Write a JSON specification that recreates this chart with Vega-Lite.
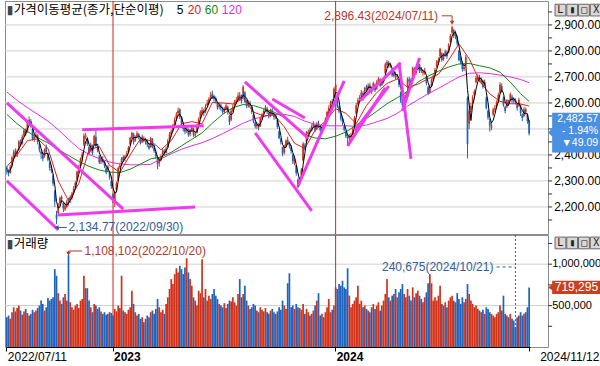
{
"$schema":"https://vega.github.io/schema/vega-lite/v6.json",
"padding":0,
"background":"white",
"spacing":1,
"bounds":"flush",
"config":{"view":{"stroke":"#8C8C8C"},"axis":{"labelFont":"Liberation Sans","labelFontSize":12,"labelColor":"#000000","tickColor":"#333333","domain":false,"grid":false,"title":null}},
"datasets":{
"yr":[{"d":"2023-01-02"},{"d":"2024-01-02"}],
"pgrid":[{"y":2200},{"y":2300},{"y":2400},{"y":2500},{"y":2600},{"y":2700},{"y":2800},{"y":2900}],
"plab":[{"y":2200},{"y":2300},{"y":2400},{"y":2600},{"y":2700},{"y":2800},{"y":2900}],
"pticks":[{"y":2150},{"y":2200},{"y":2250},{"y":2300},{"y":2350},{"y":2400},{"y":2450},{"y":2500},{"y":2550},{"y":2600},{"y":2650},{"y":2700},{"y":2750},{"y":2800},{"y":2850},{"y":2900},{"y":2950}],
"vgrid":[{"y":500000},{"y":1000000}],
"vticks":[{"y":250000},{"y":500000},{"y":750000},{"y":1000000},{"y":1250000}],
"k":[
{"d":"2022-07-11","o":2352,"h":2358,"l":2325,"c":2340,"v":360000},
{"d":"2022-07-13","o":2338,"h":2345,"l":2318,"c":2330,"v":380000},
{"d":"2022-07-15","o":2332,"h":2362,"l":2328,"c":2355,"v":340000},
{"d":"2022-07-19","o":2360,"h":2395,"l":2355,"c":2390,"v":420000},
{"d":"2022-07-21","o":2392,"h":2420,"l":2385,"c":2410,"v":480000},
{"d":"2022-07-25","o":2415,"h":2425,"l":2395,"c":2405,"v":430000},
{"d":"2022-07-27","o":2400,"h":2422,"l":2392,"c":2415,"v":470000},
{"d":"2022-07-29","o":2420,"h":2458,"l":2415,"c":2452,"v":500000},
{"d":"2022-08-02","o":2450,"h":2460,"l":2432,"c":2440,"v":440000},
{"d":"2022-08-04","o":2445,"h":2478,"l":2440,"c":2470,"v":390000},
{"d":"2022-08-08","o":2475,"h":2500,"l":2468,"c":2495,"v":430000},
{"d":"2022-08-10","o":2492,"h":2502,"l":2472,"c":2480,"v":460000},
{"d":"2022-08-12","o":2490,"h":2530,"l":2485,"c":2525,"v":410000},
{"d":"2022-08-16","o":2520,"h":2548,"l":2512,"c":2535,"v":380000},
{"d":"2022-08-18","o":2530,"h":2538,"l":2505,"c":2515,"v":400000},
{"d":"2022-08-22","o":2500,"h":2505,"l":2455,"c":2462,"v":450000},
{"d":"2022-08-24","o":2460,"h":2482,"l":2450,"c":2470,"v":420000},
{"d":"2022-08-26","o":2472,"h":2490,"l":2465,"c":2478,"v":440000},
{"d":"2022-08-30","o":2475,"h":2480,"l":2440,"c":2450,"v":470000},
{"d":"2022-09-01","o":2440,"h":2448,"l":2410,"c":2420,"v":500000},
{"d":"2022-09-05","o":2412,"h":2420,"l":2385,"c":2405,"v":560000},
{"d":"2022-09-07","o":2400,"h":2410,"l":2375,"c":2385,"v":520000},
{"d":"2022-09-09","o":2395,"h":2425,"l":2390,"c":2420,"v":440000},
{"d":"2022-09-13","o":2430,"h":2440,"l":2405,"c":2412,"v":480000},
{"d":"2022-09-15","o":2405,"h":2410,"l":2375,"c":2382,"v":590000},
{"d":"2022-09-19","o":2370,"h":2375,"l":2340,"c":2350,"v":560000},
{"d":"2022-09-21","o":2345,"h":2360,"l":2330,"c":2340,"v":580000},
{"d":"2022-09-23","o":2320,"h":2325,"l":2280,"c":2290,"v":600000},
{"d":"2022-09-27","o":2260,"h":2265,"l":2200,"c":2220,"v":940000},
{"d":"2022-09-30","o":2170,"h":2185,"l":2134.77,"c":2155,"v":860000},
{"d":"2022-10-04","o":2175,"h":2215,"l":2165,"c":2210,"v":650000},
{"d":"2022-10-06","o":2215,"h":2240,"l":2205,"c":2235,"v":560000},
{"d":"2022-10-07","o":2238,"h":2245,"l":2218,"c":2230,"v":520000},
{"d":"2022-10-11","o":2215,"h":2220,"l":2180,"c":2195,"v":600000},
{"d":"2022-10-13","o":2190,"h":2215,"l":2185,"c":2205,"v":640000},
{"d":"2022-10-17","o":2200,"h":2228,"l":2195,"c":2220,"v":560000},
{"d":"2022-10-20","o":2225,"h":2235,"l":2205,"c":2218,"v":1108102},
{"d":"2022-10-24","o":2225,"h":2245,"l":2215,"c":2238,"v":540000},
{"d":"2022-10-26","o":2235,"h":2258,"l":2228,"c":2250,"v":480000},
{"d":"2022-10-28","o":2255,"h":2280,"l":2248,"c":2270,"v":450000},
{"d":"2022-10-31","o":2275,"h":2300,"l":2270,"c":2293,"v":500000},
{"d":"2022-11-02","o":2305,"h":2340,"l":2300,"c":2336,"v":520000},
{"d":"2022-11-04","o":2340,"h":2362,"l":2330,"c":2348,"v":470000},
{"d":"2022-11-08","o":2355,"h":2390,"l":2350,"c":2385,"v":560000},
{"d":"2022-11-10","o":2385,"h":2412,"l":2375,"c":2403,"v":580000},
{"d":"2022-11-14","o":2440,"h":2483,"l":2435,"c":2474,"v":860000},
{"d":"2022-11-16","o":2470,"h":2485,"l":2460,"c":2475,"v":710000},
{"d":"2022-11-18","o":2465,"h":2470,"l":2435,"c":2442,"v":710000},
{"d":"2022-11-22","o":2430,"h":2438,"l":2398,"c":2405,"v":560000},
{"d":"2022-11-24","o":2415,"h":2448,"l":2410,"c":2440,"v":480000},
{"d":"2022-11-28","o":2435,"h":2440,"l":2400,"c":2408,"v":420000},
{"d":"2022-11-30","o":2440,"h":2478,"l":2436,"c":2472,"v":520000},
{"d":"2022-12-02","o":2470,"h":2495,"l":2430,"c":2434,"v":500000},
{"d":"2022-12-06","o":2428,"h":2435,"l":2410,"c":2419,"v":460000},
{"d":"2022-12-08","o":2395,"h":2400,"l":2365,"c":2371,"v":480000},
{"d":"2022-12-12","o":2375,"h":2395,"l":2365,"c":2389,"v":430000},
{"d":"2022-12-14","o":2385,"h":2395,"l":2368,"c":2373,"v":400000},
{"d":"2022-12-16","o":2375,"h":2378,"l":2350,"c":2360,"v":420000},
{"d":"2022-12-20","o":2350,"h":2360,"l":2325,"c":2333,"v":390000},
{"d":"2022-12-22","o":2340,"h":2362,"l":2335,"c":2356,"v":400000},
{"d":"2022-12-26","o":2330,"h":2335,"l":2305,"c":2313,"v":420000},
{"d":"2022-12-28","o":2298,"h":2302,"l":2270,"c":2280,"v":410000},
{"d":"2023-01-02","o":2249,"h":2253,"l":2215,"c":2225,"v":380000},
{"d":"2023-01-04","o":2220,"h":2262,"l":2200,"c":2255,"v":460000},
{"d":"2023-01-06","o":2265,"h":2298,"l":2260,"c":2290,"v":430000},
{"d":"2023-01-09","o":2300,"h":2356,"l":2298,"c":2350,"v":500000},
{"d":"2023-01-11","o":2352,"h":2370,"l":2345,"c":2360,"v":470000},
{"d":"2023-01-13","o":2365,"h":2392,"l":2358,"c":2386,"v":860000},
{"d":"2023-01-17","o":2392,"h":2398,"l":2372,"c":2380,"v":440000},
{"d":"2023-01-19","o":2385,"h":2400,"l":2375,"c":2395,"v":420000},
{"d":"2023-01-23","o":2398,"h":2415,"l":2390,"c":2405,"v":400000},
{"d":"2023-01-25","o":2410,"h":2435,"l":2405,"c":2428,"v":450000},
{"d":"2023-01-27","o":2440,"h":2470,"l":2438,"c":2466,"v":480000},
{"d":"2023-01-31","o":2465,"h":2490,"l":2460,"c":2484,"v":680000},
{"d":"2023-02-02","o":2480,"h":2485,"l":2440,"c":2450,"v":520000},
{"d":"2023-02-06","o":2455,"h":2475,"l":2450,"c":2468,"v":420000},
{"d":"2023-02-08","o":2470,"h":2492,"l":2465,"c":2482,"v":380000},
{"d":"2023-02-10","o":2480,"h":2485,"l":2460,"c":2470,"v":400000},
{"d":"2023-02-14","o":2465,"h":2470,"l":2440,"c":2445,"v":340000},
{"d":"2023-02-16","o":2450,"h":2478,"l":2445,"c":2470,"v":360000},
{"d":"2023-02-20","o":2465,"h":2472,"l":2448,"c":2455,"v":300000},
{"d":"2023-02-22","o":2452,"h":2466,"l":2440,"c":2458,"v":340000},
{"d":"2023-02-24","o":2455,"h":2460,"l":2430,"c":2440,"v":380000},
{"d":"2023-02-28","o":2435,"h":2445,"l":2420,"c":2425,"v":360000},
{"d":"2023-03-02","o":2430,"h":2470,"l":2428,"c":2465,"v":420000},
{"d":"2023-03-06","o":2460,"h":2465,"l":2425,"c":2430,"v":440000},
{"d":"2023-03-08","o":2428,"h":2440,"l":2408,"c":2415,"v":400000},
{"d":"2023-03-10","o":2410,"h":2418,"l":2385,"c":2395,"v":460000},
{"d":"2023-03-14","o":2385,"h":2390,"l":2345,"c":2365,"v":580000},
{"d":"2023-03-16","o":2368,"h":2390,"l":2355,"c":2380,"v":480000},
{"d":"2023-03-20","o":2382,"h":2402,"l":2375,"c":2395,"v":420000},
{"d":"2023-03-22","o":2400,"h":2425,"l":2395,"c":2418,"v":450000},
{"d":"2023-03-24","o":2415,"h":2422,"l":2398,"c":2405,"v":400000},
{"d":"2023-03-28","o":2408,"h":2432,"l":2405,"c":2425,"v":520000},
{"d":"2023-03-30","o":2430,"h":2462,"l":2428,"c":2455,"v":600000},
{"d":"2023-04-03","o":2460,"h":2488,"l":2455,"c":2480,"v":700000},
{"d":"2023-04-05","o":2478,"h":2498,"l":2470,"c":2490,"v":820000},
{"d":"2023-04-07","o":2495,"h":2520,"l":2490,"c":2512,"v":760000},
{"d":"2023-04-11","o":2515,"h":2545,"l":2510,"c":2535,"v":880000},
{"d":"2023-04-13","o":2540,"h":2565,"l":2532,"c":2555,"v":950000},
{"d":"2023-04-17","o":2560,"h":2582,"l":2550,"c":2570,"v":900000},
{"d":"2023-04-19","o":2575,"h":2580,"l":2538,"c":2545,"v":980000},
{"d":"2023-04-21","o":2545,"h":2550,"l":2510,"c":2520,"v":940000},
{"d":"2023-04-25","o":2515,"h":2525,"l":2490,"c":2500,"v":880000},
{"d":"2023-04-27","o":2505,"h":2510,"l":2480,"c":2490,"v":960000},
{"d":"2023-05-01","o":2492,"h":2510,"l":2485,"c":2502,"v":1070000},
{"d":"2023-05-03","o":2498,"h":2502,"l":2470,"c":2478,"v":900000},
{"d":"2023-05-05","o":2480,"h":2500,"l":2472,"c":2495,"v":820000},
{"d":"2023-05-09","o":2495,"h":2512,"l":2488,"c":2505,"v":740000},
{"d":"2023-05-11","o":2500,"h":2505,"l":2470,"c":2478,"v":600000},
{"d":"2023-05-15","o":2475,"h":2490,"l":2468,"c":2480,"v":560000},
{"d":"2023-05-17","o":2485,"h":2518,"l":2482,"c":2510,"v":500000},
{"d":"2023-05-19","o":2515,"h":2545,"l":2510,"c":2537,"v":680000},
{"d":"2023-05-23","o":2540,"h":2572,"l":2538,"c":2565,"v":650000},
{"d":"2023-05-25","o":2560,"h":2585,"l":2552,"c":2572,"v":1060000},
{"d":"2023-05-29","o":2570,"h":2578,"l":2550,"c":2560,"v":600000},
{"d":"2023-05-31","o":2565,"h":2595,"l":2560,"c":2585,"v":700000},
{"d":"2023-06-02","o":2590,"h":2612,"l":2585,"c":2600,"v":560000},
{"d":"2023-06-06","o":2600,"h":2622,"l":2595,"c":2615,"v":620000},
{"d":"2023-06-08","o":2615,"h":2642,"l":2610,"c":2630,"v":580000},
{"d":"2023-06-12","o":2635,"h":2648,"l":2615,"c":2625,"v":640000},
{"d":"2023-06-14","o":2625,"h":2632,"l":2605,"c":2615,"v":700000},
{"d":"2023-06-16","o":2618,"h":2625,"l":2598,"c":2608,"v":620000},
{"d":"2023-06-20","o":2600,"h":2605,"l":2575,"c":2582,"v":580000},
{"d":"2023-06-22","o":2585,"h":2600,"l":2575,"c":2592,"v":520000},
{"d":"2023-06-26","o":2590,"h":2598,"l":2570,"c":2580,"v":500000},
{"d":"2023-06-28","o":2578,"h":2585,"l":2558,"c":2565,"v":480000},
{"d":"2023-06-30","o":2565,"h":2585,"l":2560,"c":2575,"v":530000},
{"d":"2023-07-04","o":2578,"h":2598,"l":2572,"c":2590,"v":470000},
{"d":"2023-07-06","o":2585,"h":2590,"l":2555,"c":2565,"v":520000},
{"d":"2023-07-10","o":2550,"h":2555,"l":2515,"c":2526,"v":560000},
{"d":"2023-07-12","o":2535,"h":2578,"l":2530,"c":2570,"v":550000},
{"d":"2023-07-14","o":2570,"h":2595,"l":2565,"c":2585,"v":600000},
{"d":"2023-07-18","o":2590,"h":2612,"l":2585,"c":2602,"v":540000},
{"d":"2023-07-20","o":2600,"h":2622,"l":2595,"c":2610,"v":500000},
{"d":"2023-07-24","o":2612,"h":2640,"l":2608,"c":2628,"v":640000},
{"d":"2023-07-26","o":2630,"h":2642,"l":2610,"c":2620,"v":820000},
{"d":"2023-07-28","o":2625,"h":2632,"l":2598,"c":2608,"v":600000},
{"d":"2023-08-01","o":2620,"h":2668,"l":2618,"c":2662,"v":640000},
{"d":"2023-08-03","o":2640,"h":2645,"l":2600,"c":2605,"v":740000},
{"d":"2023-08-07","o":2605,"h":2612,"l":2580,"c":2590,"v":560000},
{"d":"2023-08-09","o":2590,"h":2610,"l":2582,"c":2602,"v":500000},
{"d":"2023-08-11","o":2600,"h":2608,"l":2585,"c":2595,"v":460000},
{"d":"2023-08-15","o":2585,"h":2590,"l":2558,"c":2565,"v":480000},
{"d":"2023-08-17","o":2555,"h":2560,"l":2522,"c":2530,"v":520000},
{"d":"2023-08-21","o":2525,"h":2530,"l":2502,"c":2510,"v":500000},
{"d":"2023-08-23","o":2510,"h":2525,"l":2500,"c":2518,"v":440000},
{"d":"2023-08-25","o":2515,"h":2522,"l":2495,"c":2505,"v":420000},
{"d":"2023-08-29","o":2510,"h":2548,"l":2508,"c":2540,"v":480000},
{"d":"2023-08-31","o":2540,"h":2562,"l":2535,"c":2556,"v":450000},
{"d":"2023-09-04","o":2560,"h":2578,"l":2555,"c":2570,"v":430000},
{"d":"2023-09-06","o":2570,"h":2592,"l":2568,"c":2582,"v":470000},
{"d":"2023-09-08","o":2578,"h":2585,"l":2558,"c":2565,"v":420000},
{"d":"2023-09-12","o":2562,"h":2568,"l":2540,"c":2548,"v":400000},
{"d":"2023-09-14","o":2550,"h":2578,"l":2545,"c":2572,"v":440000},
{"d":"2023-09-18","o":2570,"h":2580,"l":2550,"c":2560,"v":460000},
{"d":"2023-09-20","o":2555,"h":2562,"l":2535,"c":2545,"v":420000},
{"d":"2023-09-22","o":2545,"h":2558,"l":2538,"c":2550,"v":400000},
{"d":"2023-09-26","o":2535,"h":2540,"l":2500,"c":2508,"v":430000},
{"d":"2023-09-28","o":2490,"h":2495,"l":2460,"c":2465,"v":480000},
{"d":"2023-10-02","o":2460,"h":2465,"l":2440,"c":2450,"v":450000},
{"d":"2023-10-04","o":2430,"h":2432,"l":2395,"c":2405,"v":560000},
{"d":"2023-10-06","o":2410,"h":2440,"l":2402,"c":2430,"v":500000},
{"d":"2023-10-10","o":2435,"h":2460,"l":2428,"c":2455,"v":460000},
{"d":"2023-10-12","o":2458,"h":2470,"l":2440,"c":2450,"v":770000},
{"d":"2023-10-16","o":2445,"h":2452,"l":2425,"c":2436,"v":890000},
{"d":"2023-10-18","o":2430,"h":2438,"l":2405,"c":2415,"v":480000},
{"d":"2023-10-20","o":2400,"h":2405,"l":2365,"c":2375,"v":500000},
{"d":"2023-10-24","o":2370,"h":2395,"l":2360,"c":2385,"v":460000},
{"d":"2023-10-26","o":2360,"h":2362,"l":2320,"c":2330,"v":520000},
{"d":"2023-10-30","o":2305,"h":2310,"l":2272,"c":2277,"v":480000},
{"d":"2023-11-01","o":2290,"h":2315,"l":2280,"c":2301,"v":470000},
{"d":"2023-11-03","o":2310,"h":2350,"l":2305,"c":2343,"v":450000},
{"d":"2023-11-07","o":2380,"h":2450,"l":2375,"c":2443,"v":520000},
{"d":"2023-11-09","o":2435,"h":2445,"l":2418,"c":2427,"v":400000},
{"d":"2023-11-13","o":2450,"h":2492,"l":2445,"c":2486,"v":460000},
{"d":"2023-11-15","o":2480,"h":2498,"l":2472,"c":2488,"v":420000},
{"d":"2023-11-17","o":2495,"h":2505,"l":2482,"c":2491,"v":380000},
{"d":"2023-11-21","o":2495,"h":2518,"l":2490,"c":2510,"v":400000},
{"d":"2023-11-23","o":2512,"h":2530,"l":2505,"c":2521,"v":440000},
{"d":"2023-11-27","o":2515,"h":2520,"l":2488,"c":2495,"v":500000},
{"d":"2023-11-29","o":2500,"h":2528,"l":2495,"c":2520,"v":560000},
{"d":"2023-12-01","o":2522,"h":2532,"l":2505,"c":2514,"v":650000},
{"d":"2023-12-05","o":2510,"h":2515,"l":2488,"c":2495,"v":380000},
{"d":"2023-12-07","o":2495,"h":2512,"l":2490,"c":2505,"v":400000},
{"d":"2023-12-11","o":2505,"h":2522,"l":2500,"c":2515,"v":360000},
{"d":"2023-12-13","o":2520,"h":2545,"l":2515,"c":2537,"v":420000},
{"d":"2023-12-15","o":2540,"h":2570,"l":2535,"c":2565,"v":480000},
{"d":"2023-12-19","o":2568,"h":2590,"l":2560,"c":2580,"v":580000},
{"d":"2023-12-21","o":2585,"h":2608,"l":2578,"c":2600,"v":420000},
{"d":"2023-12-26","o":2605,"h":2615,"l":2590,"c":2599,"v":450000},
{"d":"2023-12-28","o":2620,"h":2660,"l":2615,"c":2655,"v":500000},
{"d":"2024-01-02","o":2645,"h":2675,"l":2640,"c":2669,"v":720000},
{"d":"2024-01-04","o":2610,"h":2615,"l":2580,"c":2587,"v":700000},
{"d":"2024-01-08","o":2585,"h":2590,"l":2560,"c":2567,"v":760000},
{"d":"2024-01-10","o":2560,"h":2565,"l":2532,"c":2540,"v":740000},
{"d":"2024-01-12","o":2540,"h":2545,"l":2515,"c":2525,"v":800000},
{"d":"2024-01-16","o":2510,"h":2515,"l":2490,"c":2497,"v":720000},
{"d":"2024-01-18","o":2490,"h":2495,"l":2465,"c":2472,"v":700000},
{"d":"2024-01-22","o":2470,"h":2478,"l":2435,"c":2464,"v":950000},
{"d":"2024-01-24","o":2465,"h":2480,"l":2450,"c":2470,"v":620000},
{"d":"2024-01-26","o":2470,"h":2485,"l":2460,"c":2478,"v":480000},
{"d":"2024-01-30","o":2480,"h":2505,"l":2475,"c":2498,"v":520000},
{"d":"2024-02-01","o":2505,"h":2550,"l":2500,"c":2543,"v":560000},
{"d":"2024-02-05","o":2560,"h":2600,"l":2555,"c":2591,"v":600000},
{"d":"2024-02-07","o":2595,"h":2620,"l":2590,"c":2610,"v":740000},
{"d":"2024-02-09","o":2615,"h":2630,"l":2605,"c":2620,"v":520000},
{"d":"2024-02-13","o":2625,"h":2650,"l":2618,"c":2640,"v":560000},
{"d":"2024-02-15","o":2638,"h":2645,"l":2608,"c":2615,"v":480000},
{"d":"2024-02-19","o":2625,"h":2662,"l":2620,"c":2657,"v":500000},
{"d":"2024-02-21","o":2660,"h":2670,"l":2645,"c":2654,"v":460000},
{"d":"2024-02-23","o":2655,"h":2675,"l":2648,"c":2667,"v":440000},
{"d":"2024-02-27","o":2668,"h":2678,"l":2650,"c":2660,"v":420000},
{"d":"2024-02-29","o":2658,"h":2664,"l":2635,"c":2642,"v":480000},
{"d":"2024-03-04","o":2650,"h":2682,"l":2648,"c":2675,"v":520000},
{"d":"2024-03-06","o":2670,"h":2675,"l":2642,"c":2649,"v":460000},
{"d":"2024-03-08","o":2655,"h":2688,"l":2650,"c":2680,"v":500000},
{"d":"2024-03-12","o":2680,"h":2700,"l":2672,"c":2693,"v":540000},
{"d":"2024-03-14","o":2690,"h":2695,"l":2660,"c":2666,"v":440000},
{"d":"2024-03-18","o":2670,"h":2692,"l":2665,"c":2685,"v":500000},
{"d":"2024-03-20","o":2685,"h":2700,"l":2675,"c":2690,"v":560000},
{"d":"2024-03-22","o":2715,"h":2755,"l":2710,"c":2748,"v":640000},
{"d":"2024-03-26","o":2745,"h":2765,"l":2735,"c":2757,"v":820000},
{"d":"2024-03-28","o":2755,"h":2762,"l":2735,"c":2745,"v":600000},
{"d":"2024-04-01","o":2740,"h":2755,"l":2735,"c":2747,"v":560000},
{"d":"2024-04-03","o":2730,"h":2735,"l":2700,"c":2706,"v":620000},
{"d":"2024-04-05","o":2705,"h":2722,"l":2698,"c":2714,"v":640000},
{"d":"2024-04-09","o":2712,"h":2720,"l":2692,"c":2705,"v":700000},
{"d":"2024-04-11","o":2700,"h":2712,"l":2690,"c":2706,"v":600000},
{"d":"2024-04-15","o":2690,"h":2695,"l":2660,"c":2670,"v":660000},
{"d":"2024-04-17","o":2640,"h":2645,"l":2600,"c":2609,"v":700000},
{"d":"2024-04-19","o":2610,"h":2615,"l":2575,"c":2591,"v":760000},
{"d":"2024-04-23","o":2600,"h":2630,"l":2595,"c":2623,"v":640000},
{"d":"2024-04-25","o":2620,"h":2640,"l":2615,"c":2628,"v":600000},
{"d":"2024-04-29","o":2660,"h":2698,"l":2655,"c":2692,"v":700000},
{"d":"2024-05-01","o":2690,"h":2700,"l":2675,"c":2683,"v":620000},
{"d":"2024-05-03","o":2685,"h":2695,"l":2668,"c":2676,"v":560000},
{"d":"2024-05-07","o":2700,"h":2740,"l":2695,"c":2734,"v":720000},
{"d":"2024-05-09","o":2730,"h":2738,"l":2705,"c":2712,"v":600000},
{"d":"2024-05-13","o":2715,"h":2735,"l":2708,"c":2727,"v":650000},
{"d":"2024-05-15","o":2730,"h":2760,"l":2725,"c":2753,"v":680000},
{"d":"2024-05-17","o":2745,"h":2750,"l":2715,"c":2724,"v":620000},
{"d":"2024-05-21","o":2730,"h":2738,"l":2715,"c":2723,"v":580000},
{"d":"2024-05-23","o":2715,"h":2728,"l":2705,"c":2721,"v":540000},
{"d":"2024-05-27","o":2715,"h":2735,"l":2708,"c":2722,"v":600000},
{"d":"2024-05-29","o":2700,"h":2705,"l":2668,"c":2677,"v":660000},
{"d":"2024-05-31","o":2660,"h":2665,"l":2630,"c":2636,"v":770000},
{"d":"2024-06-04","o":2640,"h":2670,"l":2635,"c":2662,"v":880000},
{"d":"2024-06-06","o":2665,"h":2695,"l":2660,"c":2689,"v":770000},
{"d":"2024-06-10","o":2690,"h":2710,"l":2685,"c":2701,"v":560000},
{"d":"2024-06-12","o":2710,"h":2735,"l":2705,"c":2728,"v":600000},
{"d":"2024-06-14","o":2740,"h":2765,"l":2735,"c":2758,"v":560000},
{"d":"2024-06-18","o":2755,"h":2775,"l":2748,"c":2763,"v":620000},
{"d":"2024-06-20","o":2780,"h":2812,"l":2775,"c":2807,"v":740000},
{"d":"2024-06-24","o":2790,"h":2795,"l":2758,"c":2765,"v":520000},
{"d":"2024-06-26","o":2770,"h":2792,"l":2762,"c":2784,"v":500000},
{"d":"2024-06-28","o":2785,"h":2805,"l":2778,"c":2797,"v":540000},
{"d":"2024-07-02","o":2795,"h":2802,"l":2770,"c":2780,"v":480000},
{"d":"2024-07-04","o":2795,"h":2830,"l":2790,"c":2824,"v":560000},
{"d":"2024-07-08","o":2835,"h":2865,"l":2830,"c":2857,"v":600000},
{"d":"2024-07-11","o":2870,"h":2896.43,"l":2862,"c":2891,"v":620000},
{"d":"2024-07-12","o":2880,"h":2885,"l":2850,"c":2858,"v":560000},
{"d":"2024-07-16","o":2860,"h":2878,"l":2845,"c":2867,"v":540000},
{"d":"2024-07-18","o":2855,"h":2860,"l":2820,"c":2829,"v":650000},
{"d":"2024-07-22","o":2800,"h":2805,"l":2760,"c":2765,"v":580000},
{"d":"2024-07-24","o":2770,"h":2778,"l":2748,"c":2758,"v":520000},
{"d":"2024-07-26","o":2755,"h":2760,"l":2720,"c":2731,"v":600000},
{"d":"2024-07-30","o":2730,"h":2750,"l":2722,"c":2738,"v":540000},
{"d":"2024-08-01","o":2750,"h":2785,"l":2745,"c":2777,"v":580000},
{"d":"2024-08-05","o":2620,"h":2625,"l":2386,"c":2441,"v":760000},
{"d":"2024-08-07","o":2520,"h":2575,"l":2500,"c":2568,"v":640000},
{"d":"2024-08-09","o":2575,"h":2600,"l":2565,"c":2588,"v":560000},
{"d":"2024-08-13","o":2600,"h":2630,"l":2595,"c":2621,"v":520000},
{"d":"2024-08-15","o":2630,"h":2652,"l":2625,"c":2644,"v":480000},
{"d":"2024-08-19","o":2680,"h":2705,"l":2675,"c":2697,"v":500000},
{"d":"2024-08-21","o":2690,"h":2710,"l":2685,"c":2701,"v":460000},
{"d":"2024-08-23","o":2700,"h":2708,"l":2680,"c":2689,"v":440000},
{"d":"2024-08-27","o":2680,"h":2698,"l":2672,"c":2689,"v":420000},
{"d":"2024-08-29","o":2685,"h":2690,"l":2655,"c":2662,"v":450000},
{"d":"2024-09-02","o":2670,"h":2690,"l":2665,"c":2681,"v":400000},
{"d":"2024-09-04","o":2620,"h":2625,"l":2575,"c":2580,"v":480000},
{"d":"2024-09-06","o":2570,"h":2575,"l":2535,"c":2544,"v":460000},
{"d":"2024-09-10","o":2530,"h":2540,"l":2490,"c":2513,"v":420000},
{"d":"2024-09-12","o":2505,"h":2525,"l":2495,"c":2513,"v":400000},
{"d":"2024-09-16","o":2555,"h":2582,"l":2550,"c":2575,"v":380000},
{"d":"2024-09-18","o":2575,"h":2592,"l":2565,"c":2580,"v":360000},
{"d":"2024-09-20","o":2585,"h":2610,"l":2578,"c":2602,"v":400000},
{"d":"2024-09-24","o":2605,"h":2640,"l":2600,"c":2631,"v":420000},
{"d":"2024-09-26","o":2640,"h":2680,"l":2635,"c":2671,"v":500000},
{"d":"2024-09-30","o":2665,"h":2675,"l":2640,"c":2649,"v":440000},
{"d":"2024-10-02","o":2620,"h":2625,"l":2585,"c":2593,"v":620000},
{"d":"2024-10-04","o":2585,"h":2590,"l":2560,"c":2569,"v":400000},
{"d":"2024-10-08","o":2585,"h":2615,"l":2580,"c":2610,"v":380000},
{"d":"2024-10-10","o":2605,"h":2612,"l":2590,"c":2596,"v":360000},
{"d":"2024-10-14","o":2610,"h":2640,"l":2605,"c":2633,"v":400000},
{"d":"2024-10-16","o":2625,"h":2632,"l":2600,"c":2610,"v":340000},
{"d":"2024-10-18","o":2615,"h":2622,"l":2598,"c":2609,"v":320000},
{"d":"2024-10-21","o":2612,"h":2618,"l":2595,"c":2604,"v":240675},
{"d":"2024-10-24","o":2595,"h":2600,"l":2570,"c":2581,"v":360000},
{"d":"2024-10-28","o":2590,"h":2620,"l":2585,"c":2612,"v":380000},
{"d":"2024-10-30","o":2590,"h":2595,"l":2550,"c":2561,"v":420000},
{"d":"2024-11-01","o":2555,"h":2560,"l":2530,"c":2542,"v":380000},
{"d":"2024-11-05","o":2550,"h":2585,"l":2545,"c":2576,"v":400000},
{"d":"2024-11-07","o":2575,"h":2582,"l":2555,"c":2564,"v":420000},
{"d":"2024-11-11","o":2555,"h":2560,"l":2520,"c":2531,"v":480000},
{"d":"2024-11-12","o":2530,"h":2535,"l":2475,"c":2482.57,"v":719295}
],
"ma":[
{"d":"2022-07-11","a":2355,"b":2556,"e":2642},
{"d":"2022-07-27","a":2400,"b":2520,"e":2610},
{"d":"2022-08-12","a":2455,"b":2490,"e":2582},
{"d":"2022-08-30","a":2462,"b":2466,"e":2556},
{"d":"2022-09-15","a":2425,"b":2446,"e":2530},
{"d":"2022-10-04","a":2300,"b":2420,"e":2497},
{"d":"2022-10-20","a":2224,"b":2398,"e":2460},
{"d":"2022-11-04","a":2290,"b":2375,"e":2425},
{"d":"2022-11-22","a":2420,"b":2356,"e":2402},
{"d":"2022-12-08","a":2432,"b":2342,"e":2386},
{"d":"2022-12-26","a":2360,"b":2334,"e":2373},
{"d":"2023-01-11","a":2333,"b":2332,"e":2365},
{"d":"2023-01-27","a":2400,"b":2345,"e":2362},
{"d":"2023-02-14","a":2462,"b":2365,"e":2362},
{"d":"2023-03-02","a":2455,"b":2385,"e":2364},
{"d":"2023-03-20","a":2420,"b":2392,"e":2385},
{"d":"2023-04-05","a":2455,"b":2410,"e":2405},
{"d":"2023-04-21","a":2520,"b":2435,"e":2422},
{"d":"2023-05-09","a":2528,"b":2460,"e":2435},
{"d":"2023-05-25","a":2520,"b":2485,"e":2447},
{"d":"2023-06-12","a":2602,"b":2522,"e":2463},
{"d":"2023-06-28","a":2600,"b":2556,"e":2482},
{"d":"2023-07-14","a":2596,"b":2582,"e":2502},
{"d":"2023-08-01","a":2618,"b":2594,"e":2522},
{"d":"2023-08-17","a":2565,"b":2590,"e":2538},
{"d":"2023-09-04","a":2550,"b":2578,"e":2548},
{"d":"2023-09-20","a":2555,"b":2565,"e":2556},
{"d":"2023-10-06","a":2508,"b":2545,"e":2556},
{"d":"2023-10-24","a":2445,"b":2510,"e":2548},
{"d":"2023-11-09","a":2425,"b":2478,"e":2530},
{"d":"2023-11-27","a":2495,"b":2465,"e":2518},
{"d":"2023-12-13","a":2530,"b":2462,"e":2512},
{"d":"2024-01-02","a":2578,"b":2472,"e":2512},
{"d":"2024-01-18","a":2560,"b":2488,"e":2512},
{"d":"2024-02-05","a":2520,"b":2515,"e":2510},
{"d":"2024-02-21","a":2590,"b":2540,"e":2515},
{"d":"2024-03-08","a":2640,"b":2568,"e":2527},
{"d":"2024-03-26","a":2675,"b":2597,"e":2540},
{"d":"2024-04-11","a":2692,"b":2620,"e":2560},
{"d":"2024-04-29","a":2660,"b":2645,"e":2588},
{"d":"2024-05-15","a":2672,"b":2680,"e":2612},
{"d":"2024-05-31","a":2693,"b":2703,"e":2635},
{"d":"2024-06-18","a":2710,"b":2722,"e":2656},
{"d":"2024-07-04","a":2765,"b":2738,"e":2678},
{"d":"2024-07-22","a":2827,"b":2750,"e":2700},
{"d":"2024-08-07","a":2770,"b":2752,"e":2714},
{"d":"2024-08-23","a":2685,"b":2743,"e":2716},
{"d":"2024-09-10","a":2635,"b":2735,"e":2713},
{"d":"2024-09-26","a":2606,"b":2718,"e":2707},
{"d":"2024-10-14","a":2597,"b":2680,"e":2700},
{"d":"2024-10-30","a":2596,"b":2636,"e":2690},
{"d":"2024-11-12","a":2588,"b":2606,"e":2678}
],
"draw":[
{"g":1,"d":"2022-07-11","p":2600},{"g":1,"d":"2023-01-17","p":2192},
{"g":2,"d":"2022-07-11","p":2300},{"g":2,"d":"2022-10-04","p":2112},
{"g":3,"d":"2022-11-10","p":2497},{"g":3,"d":"2023-05-29","p":2512},
{"g":4,"d":"2022-10-04","p":2169},{"g":4,"d":"2023-05-15","p":2200},
{"g":5,"d":"2023-08-03","p":2681},{"g":5,"d":"2023-11-15","p":2465},
{"g":6,"d":"2023-09-18","p":2615},{"g":6,"d":"2023-11-09","p":2542},
{"g":8,"d":"2023-08-21","p":2485},{"g":8,"d":"2023-11-21","p":2185},
{"g":7,"d":"2023-10-30","p":2281},{"g":7,"d":"2024-01-16","p":2685},
{"g":9,"d":"2024-01-22","p":2435},{"g":9,"d":"2024-03-22","p":2658},
{"g":10,"d":"2024-02-01","p":2492},{"g":10,"d":"2024-03-28","p":2665},
{"g":13,"d":"2024-02-09","p":2608},{"g":13,"d":"2024-04-17","p":2754},
{"g":11,"d":"2024-04-15","p":2754},{"g":11,"d":"2024-05-03","p":2385},
{"g":12,"d":"2024-04-19","p":2569},{"g":12,"d":"2024-05-17","p":2773}
]
},
"vconcat":[
{"width":543,"height":233,"layer":[
{"data":{"name":"pgrid"},"mark":{"type":"rule","color":"#CFCFCF","strokeWidth":1},"encoding":{"y":{"field":"y","type":"quantitative","scale":{"domain":[2096,2992],"nice":false,"zero":false},"axis":null}}},
{"data":{"name":"yr"},"mark":{"type":"rule","color":"#D42020","strokeWidth":1},"encoding":{"x":{"field":"d","type":"ordinal","scale":{"range":[1,525],"paddingInner":0,"paddingOuter":0},"axis":null}}},
{"data":{"name":"k"},"mark":{"type":"rule","strokeWidth":1},"encoding":{"x":{"field":"d","type":"ordinal","axis":null},"y":{"field":"l","type":"quantitative","axis":null},"y2":{"field":"h"},"color":{"condition":{"test":"datum.c >= datum.o","value":"#D23219"},"value":"#1E64BE"}}},
{"data":{"name":"pticks"},"mark":{"type":"rule","color":"#333333","xOffset":19,"x2Offset":23},"encoding":{"x":{"datum":"2024-11-12","type":"ordinal","axis":null},"x2":{"datum":"2024-11-12"},"y":{"field":"y","type":"quantitative","axis":null}}},
{"data":{"name":"k"},"mark":{"type":"bar"},"encoding":{"x":{"field":"d","type":"ordinal","axis":null},"y":{"field":"o","type":"quantitative","axis":null},"y2":{"field":"c"},"color":{"condition":{"test":"datum.c >= datum.o","value":"#D23219"},"value":"#1E64BE"}}},
{"data":{"name":"ma"},"mark":{"type":"line","color":"#E030E0","strokeWidth":1},"encoding":{"x":{"field":"d","type":"ordinal","axis":null},"y":{"field":"e","type":"quantitative","axis":null}}},
{"data":{"name":"ma"},"mark":{"type":"line","color":"#118811","strokeWidth":1},"encoding":{"x":{"field":"d","type":"ordinal","axis":null},"y":{"field":"b","type":"quantitative","axis":null}}},
{"data":{"name":"ma"},"mark":{"type":"line","color":"#E02020","strokeWidth":1},"encoding":{"x":{"field":"d","type":"ordinal","axis":null},"y":{"field":"a","type":"quantitative","axis":null}}},
{"data":{"name":"k"},"transform":[{"window":[{"op":"mean","field":"c","as":"m5"}],"frame":[-2,0],"sort":[{"field":"d"}]}],"mark":{"type":"line","color":"#000000","strokeWidth":1},"encoding":{"x":{"field":"d","type":"ordinal","axis":null},"y":{"field":"m5","type":"quantitative","axis":null}}},
{"data":{"name":"draw"},"mark":{"type":"line","color":"#EE3BEE","strokeWidth":3},"encoding":{"x":{"field":"d","type":"ordinal","axis":null},"y":{"field":"p","type":"quantitative","axis":null},"detail":{"field":"g","type":"nominal"}}},
{"data":{"name":"plab"},"mark":{"type":"text","align":"left","baseline":"middle","dx":25,"font":"Liberation Sans","fontSize":12,"color":"#000000"},"encoding":{"x":{"datum":"2024-11-12","type":"ordinal","axis":null},"y":{"field":"y","type":"quantitative","axis":null},"text":{"field":"y","type":"quantitative","format":",.2f"}}},
{"data":{"values":[{}]},"mark":{"type":"text","text":"2,896.43(2024/07/11)","align":"right","baseline":"middle","dx":-14,"font":"Liberation Sans","fontSize":12,"color":"#B03A2E"},"encoding":{"x":{"datum":"2024-07-11","type":"ordinal","axis":null},"y":{"datum":2935,"type":"quantitative","axis":null}}},
{"data":{"values":[{}]},"mark":{"type":"rule","color":"#B03A2E"},"encoding":{"x":{"datum":"2024-06-24","type":"ordinal","axis":null},"x2":{"datum":"2024-07-11"},"y":{"datum":2935,"type":"quantitative","axis":null}}},
{"data":{"values":[{}]},"mark":{"type":"rule","color":"#B03A2E"},"encoding":{"x":{"datum":"2024-07-11","type":"ordinal","axis":null},"y":{"datum":2935,"type":"quantitative","axis":null},"y2":{"datum":2910}}},
{"data":{"values":[{}]},"mark":{"type":"point","shape":"triangle-down","size":22,"filled":true,"opacity":1,"color":"#B03A2E"},"encoding":{"x":{"datum":"2024-07-11","type":"ordinal","axis":null},"y":{"datum":2908,"type":"quantitative","axis":null}}},
{"data":{"values":[{}]},"mark":{"type":"text","text":"2,134.77(2022/09/30)","align":"left","baseline":"middle","dx":12,"font":"Liberation Sans","fontSize":12,"color":"#2F5E9E"},"encoding":{"x":{"datum":"2022-09-30","type":"ordinal","axis":null},"y":{"datum":2121,"type":"quantitative","axis":null}}},
{"data":{"values":[{}]},"mark":{"type":"rule","color":"#2F5E9E"},"encoding":{"x":{"datum":"2022-09-30","type":"ordinal","axis":null},"x2":{"datum":"2022-10-17"},"y":{"datum":2121,"type":"quantitative","axis":null}}},
{"data":{"values":[{}]},"mark":{"type":"point","shape":"triangle-left","size":22,"filled":true,"opacity":1,"color":"#2F5E9E"},"encoding":{"x":{"datum":"2022-09-30","type":"ordinal","axis":null},"y":{"datum":2121,"type":"quantitative","axis":null}}},
{"data":{"values":[{}]},"mark":{"type":"text","text":"▮","align":"left","baseline":"middle","dx":0,"font":"DejaVu Sans","fontSize":12,"color":"#444444"},"encoding":{"x":{"datum":"2022-07-11","type":"ordinal","axis":null},"y":{"datum":2957,"type":"quantitative","axis":null}}},
{"data":{"values":[{}]},"mark":{"type":"text","text":"가격이동평균(종가,단순이평)","align":"left","baseline":"middle","dx":7,"font":"Noto Sans CJK KR","fontSize":12.5,"color":"#000000"},"encoding":{"x":{"datum":"2022-07-11","type":"ordinal","axis":null},"y":{"datum":2957,"type":"quantitative","axis":null}}},
{"data":{"values":[{}]},"mark":{"type":"text","text":"5","align":"left","baseline":"middle","dx":170,"font":"Liberation Sans","fontSize":12,"color":"#000000"},"encoding":{"x":{"datum":"2022-07-11","type":"ordinal","axis":null},"y":{"datum":2957,"type":"quantitative","axis":null}}},
{"data":{"values":[{}]},"mark":{"type":"text","text":"20","align":"left","baseline":"middle","dx":181,"font":"Liberation Sans","fontSize":12,"color":"#E02020"},"encoding":{"x":{"datum":"2022-07-11","type":"ordinal","axis":null},"y":{"datum":2957,"type":"quantitative","axis":null}}},
{"data":{"values":[{}]},"mark":{"type":"text","text":"60","align":"left","baseline":"middle","dx":198,"font":"Liberation Sans","fontSize":12,"color":"#118811"},"encoding":{"x":{"datum":"2022-07-11","type":"ordinal","axis":null},"y":{"datum":2957,"type":"quantitative","axis":null}}},
{"data":{"values":[{}]},"mark":{"type":"text","text":"120","align":"left","baseline":"middle","dx":215,"font":"Liberation Sans","fontSize":12,"color":"#E030E0"},"encoding":{"x":{"datum":"2022-07-11","type":"ordinal","axis":null},"y":{"datum":2957,"type":"quantitative","axis":null}}},
{"data":{"values":[{}]},"mark":{"type":"point","shape":"M-0.86,-0.7L1,-0.7L1,0.7L-0.86,0.7L-0.86,0.14L-1,0L-0.86,-0.14Z","size":3249,"filled":true,"opacity":1,"color":"#4A90E2","xOffset":47.5},"encoding":{"x":{"datum":"2024-11-12","type":"ordinal","axis":null},"y":{"datum":2486,"type":"quantitative","axis":null}}},
{"data":{"values":[{}]},"mark":{"type":"text","text":"2,482.57","align":"right","baseline":"middle","dx":69,"dy":-14,"font":"Liberation Sans","fontSize":10.5,"color":"#FFFFFF"},"encoding":{"x":{"datum":"2024-11-12","type":"ordinal","axis":null},"y":{"datum":2486,"type":"quantitative","axis":null}}},
{"data":{"values":[{}]},"mark":{"type":"text","text":"- 1.94%","align":"right","baseline":"middle","dx":69,"dy":-2,"font":"Liberation Sans","fontSize":10.5,"color":"#FFFFFF"},"encoding":{"x":{"datum":"2024-11-12","type":"ordinal","axis":null},"y":{"datum":2486,"type":"quantitative","axis":null}}},
{"data":{"values":[{}]},"mark":{"type":"text","text":"▼49.09","align":"right","baseline":"middle","dx":69,"dy":10,"font":"Liberation Sans","fontSize":10.5,"color":"#FFFFFF"},"encoding":{"x":{"datum":"2024-11-12","type":"ordinal","axis":null},"y":{"datum":2486,"type":"quantitative","axis":null}}},
{"data":{"values":[{}]},"mark":{"type":"point","shape":"M-1,-0.25h0.46v0.5h-0.46Z M-0.5,-0.25h0.46v0.5h-0.46Z M0,-0.25h0.46v0.5h-0.46Z M0.5,-0.25h0.46v0.5h-0.46Z","size":2209,"filled":true,"opacity":1,"color":"#D8D8D8","stroke":"#666666","strokeWidth":1,"xOffset":49.4},"encoding":{"x":{"datum":"2024-11-12","type":"ordinal","axis":null},"y":{"datum":2957,"type":"quantitative","axis":null}}},
{"data":{"values":[{}]},"mark":{"type":"text","text":"L ▮ □ X","align":"left","baseline":"middle","dx":28,"font":"DejaVu Sans Mono","fontSize":10,"color":"#222222"},"encoding":{"x":{"datum":"2024-11-12","type":"ordinal","axis":null},"y":{"datum":2957,"type":"quantitative","axis":null}}}
]},
{"width":543,"height":112,"layer":[
{"data":{"name":"vgrid"},"mark":{"type":"rule","color":"#CFCFCF","strokeWidth":1},"encoding":{"y":{"field":"y","type":"quantitative","scale":{"domain":[0,1352000],"nice":false},"axis":null}}},
{"data":{"name":"yr"},"mark":{"type":"rule","color":"#D42020","strokeWidth":1},"encoding":{"x":{"field":"d","type":"ordinal","scale":{"range":[1,525],"paddingInner":0,"paddingOuter":0},"axis":{"values":["2022-07-11","2023-01-02","2024-01-02","2024-11-12"],"labelExpr":"datum.value == '2022-07-11' ? '2022/07/11' : datum.value == '2024-11-12' ? '2024/11/12' : substring(datum.value, 0, 4)","labelAngle":0,"labelAlign":"left","labelBaseline":"top","labelFontWeight":{"condition":{"test":"datum.value == '2023-01-02' || datum.value == '2024-01-02'","value":"bold"},"value":"normal"},"labelOffset":{"condition":{"test":"datum.value == '2024-11-12'","value":11},"value":1},"tickSize":4,"tickColor":"#000000","labelPadding":0,"domain":true,"domainColor":"#000000","labelOverlap":false,"labelBound":false,"labelFlush":false}}}},
{"data":{"values":[{}]},"mark":{"type":"rule","color":"#2F5E9E","strokeDash":[2,2]},"encoding":{"x":{"datum":"2024-10-21","type":"ordinal"}}},
{"data":{"name":"k"},"mark":{"type":"bar"},"encoding":{"x":{"field":"d","type":"ordinal"},"y":{"field":"v","type":"quantitative","axis":null},"color":{"condition":{"test":"datum.c >= datum.o","value":"#D23219"},"value":"#1E64BE"}}},
{"data":{"name":"vticks"},"mark":{"type":"rule","color":"#333333","xOffset":19,"x2Offset":23},"encoding":{"x":{"datum":"2024-11-12","type":"ordinal"},"x2":{"datum":"2024-11-12"},"y":{"field":"y","type":"quantitative","axis":null}}},
{"data":{"name":"vgrid"},"mark":{"type":"text","align":"left","baseline":"middle","dx":23,"font":"Liberation Sans","fontSize":11,"color":"#000000"},"encoding":{"x":{"datum":"2024-11-12","type":"ordinal"},"y":{"field":"y","type":"quantitative","axis":null},"text":{"field":"y","type":"quantitative","format":",d"}}},
{"data":{"values":[{}]},"mark":{"type":"text","text":"▮","align":"left","baseline":"middle","dx":0,"font":"DejaVu Sans","fontSize":12,"color":"#444444"},"encoding":{"x":{"datum":"2022-07-11","type":"ordinal"},"y":{"datum":1244000,"type":"quantitative","axis":null}}},
{"data":{"values":[{}]},"mark":{"type":"text","text":"거래량","align":"left","baseline":"middle","dx":7,"font":"Noto Sans CJK KR","fontSize":12.5,"color":"#000000"},"encoding":{"x":{"datum":"2022-07-11","type":"ordinal"},"y":{"datum":1244000,"type":"quantitative","axis":null}}},
{"data":{"values":[{}]},"mark":{"type":"text","text":"1,108,102(2022/10/20)","align":"left","baseline":"middle","dx":16,"font":"Liberation Sans","fontSize":12,"color":"#B03A2E"},"encoding":{"x":{"datum":"2022-10-20","type":"ordinal"},"y":{"datum":1159000,"type":"quantitative","axis":null}}},
{"data":{"values":[{}]},"mark":{"type":"rule","color":"#B03A2E"},"encoding":{"x":{"datum":"2022-10-20","type":"ordinal"},"x2":{"datum":"2022-11-10"},"y":{"datum":1159000,"type":"quantitative","axis":null}}},
{"data":{"values":[{}]},"mark":{"type":"rule","color":"#B03A2E"},"encoding":{"x":{"datum":"2022-10-20","type":"ordinal"},"y":{"datum":1159000,"type":"quantitative","axis":null},"y2":{"datum":1125000}}},
{"data":{"values":[{}]},"mark":{"type":"point","shape":"triangle-down","size":22,"filled":true,"opacity":1,"color":"#B03A2E"},"encoding":{"x":{"datum":"2022-10-20","type":"ordinal"},"y":{"datum":1125000,"type":"quantitative","axis":null}}},
{"data":{"values":[{}]},"mark":{"type":"text","text":"240,675(2024/10/21)","align":"right","baseline":"middle","dx":-22,"font":"Liberation Sans","fontSize":12,"color":"#2F5E9E"},"encoding":{"x":{"datum":"2024-10-21","type":"ordinal"},"y":{"datum":966000,"type":"quantitative","axis":null}}},
{"data":{"values":[{}]},"mark":{"type":"rule","color":"#2F5E9E","strokeDash":[3,3]},"encoding":{"x":{"datum":"2024-09-20","type":"ordinal"},"x2":{"datum":"2024-10-21"},"y":{"datum":966000,"type":"quantitative","axis":null}}},
{"data":{"values":[{}]},"mark":{"type":"point","shape":"M-0.86,-0.23L1,-0.23L1,0.23L-0.86,0.23L-0.86,0.1L-1,0L-0.86,-0.1Z","size":3249,"filled":true,"opacity":1,"color":"#C8401E","xOffset":47.5},"encoding":{"x":{"datum":"2024-11-12","type":"ordinal"},"y":{"datum":719295,"type":"quantitative","axis":null}}},
{"data":{"values":[{}]},"mark":{"type":"text","text":"719,295","align":"right","baseline":"middle","dx":69,"font":"Liberation Sans","fontSize":12,"color":"#FFFFFF"},"encoding":{"x":{"datum":"2024-11-12","type":"ordinal"},"y":{"datum":719295,"type":"quantitative","axis":null}}},
{"data":{"values":[{}]},"mark":{"type":"point","shape":"M-1,-0.25h0.46v0.5h-0.46Z M-0.5,-0.25h0.46v0.5h-0.46Z M0,-0.25h0.46v0.5h-0.46Z M0.5,-0.25h0.46v0.5h-0.46Z","size":2209,"filled":true,"opacity":1,"color":"#D8D8D8","stroke":"#666666","strokeWidth":1,"xOffset":49.4},"encoding":{"x":{"datum":"2024-11-12","type":"ordinal"},"y":{"datum":1256000,"type":"quantitative","axis":null}}},
{"data":{"values":[{}]},"mark":{"type":"text","text":"L ▮ □ X","align":"left","baseline":"middle","dx":28,"font":"DejaVu Sans Mono","fontSize":10,"color":"#222222"},"encoding":{"x":{"datum":"2024-11-12","type":"ordinal"},"y":{"datum":1256000,"type":"quantitative","axis":null}}}
]}
]
}
